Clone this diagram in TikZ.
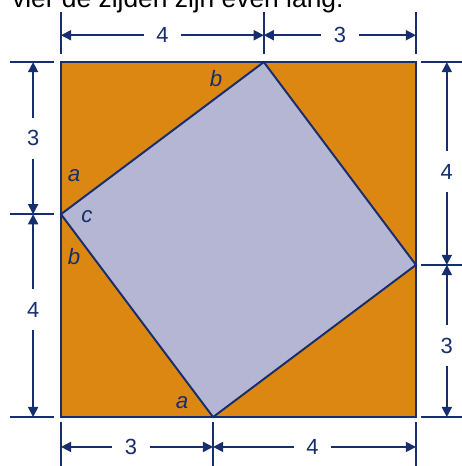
\documentclass[tikz,border=0pt]{standalone}
\usepackage{fontspec}
\setmainfont{Liberation Sans}
\usetikzlibrary{arrows.meta}

\definecolor{navy}{RGB}{22,45,110}
\definecolor{oranje}{RGB}{220,135,18}
\definecolor{lila}{RGB}{180,182,212}

\tikzset{
hulp/.style={navy, line width=0.9pt},
maat/.style={navy, line width=0.9pt, {Triangle[length=2mm,width=2mm]}-{Triangle[length=2mm,width=2mm]}},
getal/.style={fill=white, text=navy, inner sep=0.25cm, font=\fontsize{12.3}{14}\selectfont},
letter/.style={text=navy, inner sep=0pt, font=\fontsize{12.5}{14}\selectfont\itshape}
}

\begin{document}
\begin{tikzpicture}
\useasboundingbox (-1.203,-0.966) rectangle (7.909,8.225);

\node[anchor=base west, inner sep=0pt, font=\fontsize{14.8}{17}\selectfont] (kop) at (-0.97,8.07) {vier de zijden zijn even lang.};

% vierkanten
\draw[navy, line width=1.1pt, fill=oranje] (0,0) rectangle (7,7);
\coordinate (P) at (3,0);
\coordinate (Q) at (7,3);
\coordinate (R) at (4,7);
\coordinate (S) at (0,4);
\draw[navy, line width=1.1pt, fill=lila] (P) -- (Q) -- (R) -- (S) -- cycle;

\node[letter] (b1) at (3.06,6.67) {b};
\node[letter] (a1) at (0.26,4.77) {a};
\node[letter] (c1) at (0.51,3.96) {c};
\node[letter] (b2) at (0.26,3.16) {b};
\node[letter] (a2) at (2.39,0.28) {a};

% maatlijnen boven en onder
\foreach \x in {0,4,7}{
\draw[hulp] (\x,7.16) -- (\x,7.99);
\coordinate (t\x) at (\x,7.53);
}
\foreach \x in {0,3,7}{
\draw[hulp] (\x,-0.09) -- (\x,-1.1);
\coordinate (o\x) at (\x,-0.59);
}
\draw[maat] (t0) -- node[getal] (m1) {4} (t4);
\draw[maat] (t4) -- node[getal] (m2) {3} (t7);
\draw[maat] (o0) -- node[getal, pos=0.46] (m3) {3} (o3);
\draw[maat] (o3) -- node[getal, pos=0.49] (m4) {4} (o7);

% maatlijnen links en rechts
\foreach \y in {0,4,7}{
\draw[hulp] (-1.0,\y) -- (-0.14,\y);
\coordinate (l\y) at (-0.55,\y);
}
\foreach \y in {0,3,7}{
\draw[hulp] (7.1,\y) -- (8.0,\y);
\coordinate (r\y) at (7.61,\y);
}
\draw[maat] (l4) -- node[getal] (m5) {3} (l7);
\draw[maat] (l0) -- node[getal, pos=0.53] (m6) {4} (l4);
\draw[maat] (r3) -- node[getal, pos=0.46] (m7) {4} (r7);
\draw[maat] (r0) -- node[getal, pos=0.47] (m8) {3} (r3);
\end{tikzpicture}
\end{document}
